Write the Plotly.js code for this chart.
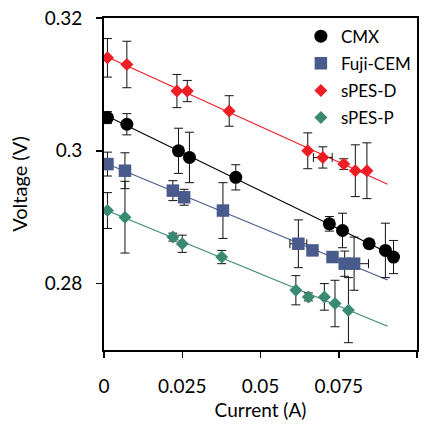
<!DOCTYPE html>
<html>
<head>
<meta charset="utf-8">
<script src="https://cdn.plot.ly/plotly-3.0.1.min.js"></script>
<style>html,body{margin:0;padding:0;background:#fff;}#chart{width:428px;height:425px;}</style>
</head>
<body>
<div id="chart"></div>
<script>
// ---- Data ----
var seriesNames = ["CMX", "Fuji-CEM", "sPES-D", "sPES-P"];

var cmxX = [0.0011, 0.0073, 0.0238, 0.0273, 0.0421, 0.0720, 0.0762, 0.0847, 0.0899, 0.0925];
var cmxY = [0.305, 0.304, 0.300, 0.299, 0.296, 0.289, 0.288, 0.286, 0.285, 0.284];
var cmxErrY = [0.0009, 0.0016, 0.0034, 0.0038, 0.0019, 0.0011, 0.0026, 0.0006, 0.0041, 0.0025];
var cmxErrX = [0, 0, 0, 0, 0, 0, 0, 0, 0, 0];

var fujiX = [0.0011, 0.0067, 0.0220, 0.0256, 0.0380, 0.0621, 0.0666, 0.0730, 0.0769, 0.0799];
var fujiY = [0.298, 0.297, 0.294, 0.293, 0.291, 0.286, 0.285, 0.284, 0.283, 0.283];
var fujiErrY = [0.0018, 0.0027, 0.0015, 0.0012, 0.0042, 0.0036, 0.0006, 0.0006, 0.0019, 0.0040];
var fujiErrX = [0, 0, 0, 0, 0, 0.0027, 0, 0, 0, 0.0046];

var spesdX = [0.0011, 0.0073, 0.0233, 0.0266, 0.0400, 0.0651, 0.0699, 0.0766, 0.0803, 0.0840];
var spesdY = [0.314, 0.313, 0.309, 0.309, 0.306, 0.300, 0.299, 0.298, 0.297, 0.297];
var spesdErrY = [0.0029, 0.0035, 0.0025, 0.0016, 0.0023, 0.0027, 0.0016, 0.0008, 0.0039, 0.0042];
var spesdErrX = [0, 0, 0, 0, 0, 0, 0.0030, 0, 0, 0];

var spespX = [0.0011, 0.0067, 0.0220, 0.0250, 0.0376, 0.0613, 0.0653, 0.0704, 0.0738, 0.0781];
var spespY = [0.291, 0.290, 0.287, 0.286, 0.284, 0.279, 0.278, 0.278, 0.277, 0.276];
var spespErrY = [0.0027, 0.0054, 0.0006, 0.0013, 0.0010, 0.0022, 0.0006, 0.0020, 0.0035, 0.0049];
var spespErrX = [0, 0, 0, 0, 0, 0, 0, 0, 0, 0];

// trendline end currents (A)
var trendEnd = [0.0925, 0.0906, 0.0906, 0.0906];

var xTickVals = [0, 0.025, 0.05, 0.075, 0.1];
var xTickText = ["0", "0.025", "0.05", "0.075", "0.1"];
var yTickVals = [0.28, 0.30, 0.32];
var yTickText = ["0.28", "0.3", "0.32"];

// ---- Styles ----
var colors = ["#000000", "#485b8c", "#ee1c25", "#3a8a73"];
var symbols = ["circle", "square", "diamond", "diamond"];
var sizes = [13, 12.5, 10, 10];

var xs = [cmxX, fujiX, spesdX, spespX];
var ys = [cmxY, fujiY, spesdY, spespY];
var eys = [cmxErrY, fujiErrY, spesdErrY, spespErrY];
var exs = [cmxErrX, fujiErrX, spesdErrX, spespErrX];

function fit(x, y) {
  var n = x.length, sx = 0, sy = 0, sxx = 0, sxy = 0;
  for (var i = 0; i < n; i++) { sx += x[i]; sy += y[i]; sxx += x[i]*x[i]; sxy += x[i]*y[i]; }
  var m = (n*sxy - sx*sy) / (n*sxx - sx*sx);
  var b = (sy - m*sx) / n;
  return {m: m, b: b};
}

var traces = [];
// trendlines first (underneath)
for (var k = 0; k < 4; k++) {
  var f = fit(xs[k], ys[k]);
  var x0 = Math.min.apply(null, xs[k]);
  var x1 = trendEnd[k];
  traces.push({
    x: [x0, x1], y: [f.m*x0 + f.b, f.m*x1 + f.b],
    mode: "lines", type: "scatter", showlegend: false, hoverinfo: "skip",
    line: {color: colors[k], width: 1.1}
  });
}
for (var k = 0; k < 4; k++) {
  traces.push({
    x: xs[k], y: ys[k], name: seriesNames[k], legendgroup: "g" + k,
    mode: "markers", type: "scatter",
    marker: {color: colors[k], symbol: symbols[k], size: sizes[k]},
    error_y: {type: "data", array: eys[k], visible: true, color: "#111", thickness: 1, width: 4.5},
    error_x: {type: "data", array: exs[k], visible: true, color: "#111", thickness: 1, width: 4.5}
  });
}

var font = "Lato, 'Open Sans', sans-serif";
var layout = {
  width: 428, height: 425,
  margin: {l: 104, r: 11, t: 18, b: 75},
  paper_bgcolor: "#fff", plot_bgcolor: "#fff",
  font: {family: font, color: "#000", size: 19},
  showlegend: true,
  legend: {x: 0.629, xanchor: "left", y: 0.998, yanchor: "top", bgcolor: "rgba(0,0,0,0)",
           font: {family: font, size: 17, color: "#000"}, tracegroupgap: 2},
  xaxis: {
    range: [0, 0.1], tickvals: xTickVals, ticktext: xTickText,
    showgrid: false, zeroline: false, showline: true, linecolor: "#000", linewidth: 2,
    mirror: true, ticks: "outside", ticklen: 6, tickwidth: 1.5, tickcolor: "#000",
    ticklabelstandoff: 12,
    tickfont: {family: font, size: 19, color: "#000"},
    title: {text: "Current (A)", font: {family: font, size: 19, color: "#000"}, standoff: 8}
  },
  yaxis: {
    range: [0.27, 0.32], tickvals: yTickVals, ticktext: yTickText,
    showgrid: false, zeroline: false, showline: true, linecolor: "#000", linewidth: 2,
    mirror: true, ticks: "outside", ticklen: 6, tickwidth: 1.5, tickcolor: "#000",
    ticklabelstandoff: 10,
    tickfont: {family: font, size: 19, color: "#000"},
    title: {text: "Voltage (V)", font: {family: font, size: 20, color: "#000"}, standoff: 12}
  }
};

Plotly.newPlot("chart", traces, layout, {displayModeBar: false, staticPlot: true});
</script>
</body>
</html>
